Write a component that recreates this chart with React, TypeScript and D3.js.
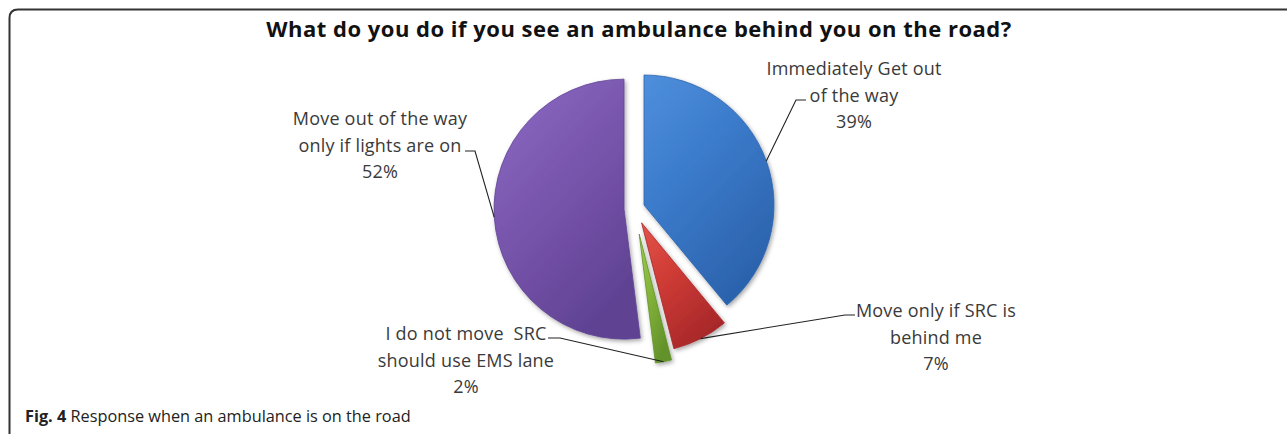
import * as d3 from "d3";

const categories = [
  "Immediately Get out of the way",
  "Move only if SRC is behind me",
  "I do not move  SRC should use EMS lane",
  "Move out of the way only if lights are on",
];
const values = [39, 7, 2, 52];
const labelLines = [
  ["Immediately Get out", "of the way"],
  ["Move only if SRC is", "behind me"],
  ["I do not move  SRC", "should use EMS lane"],
  ["Move out of the way", "only if lights are on"],
];
const title = "What do you do if you see an ambulance behind you on the road?";
const captionBold = "Fig. 4";
const captionText = " Response when an ambulance is on the road";

// layout
const W = 1287;
const H = 434;
const cx = 634.3;
const cy = 208.5;
const R = 130;
const explode = [10.3, 16, 26, 10.3];
const colors = [
  ["#4f8fdc", "#3b7bcb", "#2c63ad"],
  ["#e2544a", "#cf3b35", "#a8282a"],
  ["#a0cd52", "#86b53b", "#62922a"],
  ["#8d6cc6", "#7a57ae", "#604293"],
];
const labelPos = [
  { x: 854, y: 75, elbow: [806, 796], ly: 100 },
  { x: 936, y: 317, elbow: [855, 845], ly: 315 },
  { x: 466, y: 340, elbow: [548, 560], ly: 338 },
  { x: 380, y: 125, elbow: [465, 475], ly: 151 },
];
const lineH = 26.5;
const font = "'Open Sans', sans-serif";

export default function App() {
  const pie = d3.pie<number>().sort(null).value((d) => d);
  const arcs = pie(values);
  const arc = d3.arc<d3.PieArcDatum<number>>().innerRadius(0).outerRadius(R);
  const total = d3.sum(values);

  return (
    <svg
      width={W}
      height={H}
      style={{ position: "absolute", left: 0, top: 0, background: "#fff" }}
    >
      <defs>
        {colors.map((c, i) => (
          <linearGradient key={i} id={`g${i}`} x1="0" y1="0" x2="0.6" y2="1">
            <stop offset="0" stopColor={c[0]} />
            <stop offset="0.45" stopColor={c[1]} />
            <stop offset="1" stopColor={c[2]} />
          </linearGradient>
        ))}
        <filter id="shadow" x="-20%" y="-20%" width="140%" height="140%">
          <feDropShadow dx="1.5" dy="2" stdDeviation="2" floodColor="#000" floodOpacity="0.35" />
        </filter>
      </defs>

      <path
        d={`M9.5,${H} L9.5,18 Q9.5,9.5 18,9.5 L${W},9.5`}
        fill="none"
        stroke="#333"
        strokeWidth={2}
      />

      <text
        x={639}
        y={37}
        textAnchor="middle"
        fontFamily={font}
        fontWeight={700}
        fontSize={22}
        letterSpacing={0.5}
        fill="#111"
      >
        {title}
      </text>

      <g transform={`translate(${cx},${cy})`}>
        {arcs.map((a, i) => {
          const mid = (a.startAngle + a.endAngle) / 2;
          const dx = Math.sin(mid) * explode[i];
          const dy = -Math.cos(mid) * explode[i];
          return (
            <path
              key={categories[i]}
              d={arc(a) ?? ""}
              transform={`translate(${dx},${dy})`}
              fill={`url(#g${i})`}
              stroke={colors[i][2]}
              strokeWidth={0.8}
              filter="url(#shadow)"
            />
          );
        })}
      </g>

      {arcs.map((a, i) => {
        const mid = (a.startAngle + a.endAngle) / 2;
        const rr = R + explode[i];
        const ex = cx + Math.sin(mid) * rr;
        const ey = cy - Math.cos(mid) * rr;
        const p = labelPos[i];
        const lines = [...labelLines[i], `${Math.round((a.value / total) * 100)}%`];
        return (
          <g key={`l${i}`}>
            <polyline
              points={`${p.elbow[0]},${p.ly} ${p.elbow[1]},${p.ly} ${ex},${ey}`}
              fill="none"
              stroke="#222"
              strokeWidth={1.1}
            />
            {lines.map((t, j) => (
              <text
                key={j}
                x={p.x}
                y={p.y + j * lineH}
                textAnchor="middle"
                fontFamily={font}
                fontSize={18}
                letterSpacing={0.2}
                fill="#3a3a3a"
                style={{ whiteSpace: "pre" }}
              >
                {t}
              </text>
            ))}
          </g>
        );
      })}

      <text x={25} y={422} fontFamily={font} fontSize={16.3} fill="#222">
        <tspan fontWeight={700}>{captionBold}</tspan>
        <tspan style={{ whiteSpace: "pre" }}>{captionText}</tspan>
      </text>
    </svg>
  );
}
